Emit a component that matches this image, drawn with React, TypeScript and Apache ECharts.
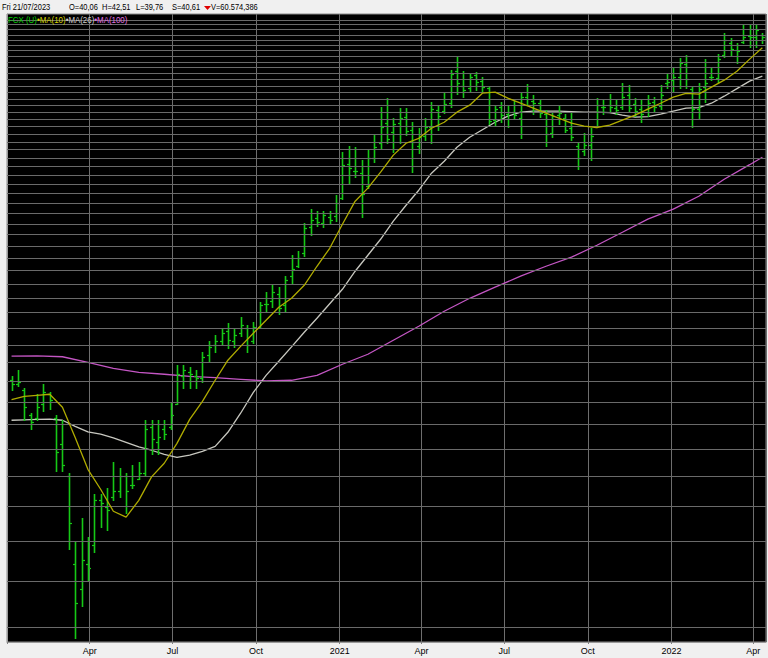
import React, { useEffect, useRef } from 'react';
import * as echarts from 'echarts';

// Weekly OHLC, FCX, weeks starting Mon 6 Jan 2020
const opens = [13.1, 12.9, 12.6, 11.4, 11.3, 11.9, 12.4, 11.3, 10.2, 9.0, 6.4, 5.8, 6.4, 6.9, 8.2, 8.0, 8.3, 8.5, 9.0, 8.7, 8.9, 9.1, 10.9, 10.3, 10.8, 10.9, 11.9, 13.3, 13.5, 13.3, 13.2, 14.4, 15.0, 15.2, 15.8, 15.2, 15.7, 16.0, 15.2, 16.1, 17.6, 17.8, 18.3, 17.5, 19.6, 20.4, 21.4, 23.7, 24.5, 24.1, 24.6, 24.7, 26.5, 30.3, 29.5, 29.2, 27.8, 31.0, 32.8, 35.5, 34.3, 35.5, 36.4, 34.5, 32.5, 33.8, 34.9, 37.3, 37.2, 38.3, 43.4, 41.0, 40.6, 42.7, 41.8, 40.6, 35.9, 37.8, 36.8, 37.0, 36.2, 39.3, 38.6, 38.3, 36.8, 34.2, 36.6, 36.2, 34.8, 32.4, 31.8, 32.6, 35.0, 37.8, 38.0, 37.6, 37.8, 39.6, 38.2, 37.5, 37.5, 38.5, 37.9, 41.4, 42.0, 42.5, 44.6, 40.5, 37.5, 40.8, 42.5, 42.3, 46.2, 48.5, 47.2, 48.6, 49.8, 49.5, 50.0];
const highs = [13.3, 13.6, 12.7, 11.5, 12.4, 12.9, 12.5, 11.4, 11.2, 9.1, 7.0, 7.65, 7.1, 8.4, 8.4, 8.6, 9.5, 9.3, 9.1, 9.4, 9.5, 11.2, 11.2, 11.2, 11.2, 11.95, 13.85, 13.85, 13.75, 13.6, 14.6, 15.2, 15.6, 16.0, 16.3, 16.0, 16.7, 16.2, 16.4, 17.7, 18.4, 19.0, 18.8, 19.6, 21.3, 21.6, 24.05, 25.4, 25.2, 25.2, 25.2, 26.8, 31.7, 32.4, 32.3, 30.7, 31.9, 33.85, 37.7, 39.1, 36.2, 37.6, 37.6, 35.6, 34.8, 36.2, 38.5, 38.0, 39.9, 43.6, 45.9, 43.5, 43.0, 43.3, 42.5, 41.0, 38.0, 38.5, 38.0, 38.6, 40.0, 41.3, 39.5, 39.0, 37.3, 37.0, 38.0, 36.7, 37.0, 32.8, 34.1, 34.8, 39.1, 38.9, 39.7, 38.8, 41.5, 41.1, 39.1, 38.8, 39.6, 39.3, 41.1, 43.1, 44.1, 45.7, 46.2, 40.8, 41.5, 45.5, 44.1, 46.4, 50.3, 49.4, 48.4, 51.9, 51.9, 51.9, 50.3];
const lows = [12.6, 12.8, 11.2, 10.8, 11.2, 11.6, 11.7, 9.2, 9.2, 6.8, 4.8, 5.45, 6.0, 6.7, 7.4, 7.3, 8.2, 8.3, 7.8, 8.6, 8.9, 9.0, 9.8, 9.8, 10.4, 10.8, 11.9, 12.7, 12.7, 12.7, 13.0, 14.1, 14.6, 15.0, 14.8, 14.9, 15.5, 14.6, 15.1, 16.0, 17.1, 17.4, 16.9, 17.1, 19.0, 20.3, 21.2, 22.95, 23.8, 23.7, 24.0, 24.3, 26.4, 28.0, 28.8, 24.6, 27.6, 30.5, 32.2, 32.9, 31.7, 32.8, 33.85, 29.3, 31.6, 33.2, 32.9, 34.5, 36.9, 37.8, 39.8, 39.2, 40.2, 40.4, 40.0, 35.4, 35.1, 35.6, 35.0, 36.0, 33.5, 38.0, 36.8, 36.4, 32.5, 33.6, 35.4, 34.3, 33.2, 29.7, 31.4, 30.7, 35.0, 36.7, 37.0, 36.7, 37.5, 37.0, 36.5, 35.6, 36.5, 37.0, 37.5, 40.7, 40.0, 40.7, 40.7, 35.0, 36.0, 38.5, 41.95, 41.6, 45.9, 46.2, 44.8, 48.4, 47.7, 47.7, 48.4];
const closes = [12.9, 13.0, 11.8, 11.1, 11.8, 12.5, 12.1, 9.9, 9.4, 7.5, 5.5, 6.5, 6.3, 8.2, 8.1, 7.9, 8.5, 9.0, 8.5, 8.7, 9.1, 10.8, 10.4, 10.5, 10.6, 11.4, 13.4, 13.6, 13.4, 13.2, 14.3, 14.9, 15.2, 15.7, 15.3, 15.6, 16.2, 15.0, 16.1, 17.5, 17.6, 18.4, 17.3, 19.3, 20.1, 21.0, 23.6, 24.4, 24.2, 24.8, 24.4, 26.0, 30.2, 29.8, 29.5, 26.9, 31.0, 32.3, 35.0, 33.4, 35.4, 36.2, 34.4, 33.0, 33.6, 34.9, 37.5, 36.5, 38.2, 43.0, 41.5, 40.3, 42.4, 41.6, 40.9, 35.8, 37.5, 36.6, 37.1, 36.6, 39.2, 38.1, 38.4, 36.9, 34.0, 36.5, 36.9, 34.6, 33.6, 31.0, 32.6, 33.7, 38.0, 37.7, 37.8, 37.3, 39.3, 37.6, 37.2, 36.8, 38.3, 37.8, 39.6, 41.7, 42.5, 44.8, 42.1, 37.5, 40.5, 41.5, 42.5, 45.5, 49.0, 47.4, 47.0, 49.6, 49.6, 51.0, 49.5];

// Moving averages (bar numbers are 1-based)
const ma10Bars = Array.from({ length: 60 }, (_, k) => 1 + 2 * k);
const ma10 = [12.12, 12.28, 12.33, 12.38, 11.77, 10.47, 9.25, 8.56, 7.86, 7.68, 8.20, 8.98, 9.47, 10.23, 11.23, 12.04, 13.07, 14.13, 14.91, 15.69, 16.50, 17.35, 17.97, 18.90, 20.35, 21.82, 23.96, 26.20, 27.56, 29.32, 31.33, 32.81, 33.45, 34.78, 35.60, 37.02, 38.04, 39.85, 40.01, 39.09, 38.33, 37.60, 36.88, 36.16, 35.47, 35.06, 34.88, 35.19, 35.89, 36.59, 37.45, 38.33, 39.24, 39.81, 39.70, 40.80, 41.92, 43.41, 45.49, 47.56];
const ma26Bars = Array.from({ length: 60 }, (_, k) => 1 + 2 * k);
const ma26 = [11.19, 11.21, 11.23, 11.24, 11.19, 10.93, 10.70, 10.60, 10.45, 10.27, 10.09, 9.96, 9.80, 9.69, 9.77, 9.92, 10.11, 10.68, 11.50, 12.47, 13.32, 14.07, 14.88, 15.75, 16.63, 17.59, 18.61, 19.96, 21.24, 22.60, 24.24, 25.79, 27.34, 29.21, 30.60, 32.31, 33.59, 34.58, 35.60, 36.45, 37.02, 37.16, 37.16, 37.16, 37.09, 37.02, 37.02, 36.95, 36.59, 36.31, 36.38, 36.73, 37.16, 37.60, 37.68, 38.33, 39.39, 40.56, 41.76, 42.58];
const ma100Bars = [...Array.from({ length: 30 }, (_, k) => 1 + 4 * k), 119];
const ma100 = [14.36, 14.37, 14.32, 14.01, 13.69, 13.48, 13.38, 13.27, 13.20, 13.12, 13.04, 13.07, 13.32, 13.91, 14.46, 15.27, 16.12, 17.09, 17.97, 18.76, 19.58, 20.35, 21.08, 22.08, 23.22, 24.43, 25.40, 26.71, 28.53, 30.19, 31.08];

// Horizontal price grid levels
const gridPrices = Array.from({ length: 49 }, (_, k) => 5 + k);
const quarterLabels: Record<number, string> = { 3: 'Apr', 6: 'Jul', 9: 'Oct' };

const headerTexts = [
  { text: 'Fri 21/07/2023', x: 2 },
  { text: 'O=40,06', x: 69 },
  { text: 'H=42,51', x: 102 },
  { text: 'L=39,76', x: 136 },
  { text: 'S=40,61', x: 172 },
  { text: 'V=60.574,386', x: 211 },
];

const weekTime = (i: number) => new Date(2020, 0, 6 + 7 * i).getTime();
const FONT = '"Liberation Sans", Arial, sans-serif';

export default function App() {
  const ref = useRef<HTMLDivElement>(null);
  useEffect(() => {
    const chart = echarts.init(ref.current!, null, { renderer: 'svg' });
    const xMin = new Date(2020, 0, 1).getTime();
    const xMax = new Date(2022, 3, 15).getTime();
    const ohlc = opens.map((o, i) => [weekTime(i), o, highs[i], lows[i], closes[i]]);
    const maData = (bars: number[], vals: number[]) => bars.map((b, k) => [weekTime(b - 1), vals[k]]);

    const option: any = {
      animation: false,
      backgroundColor: '#f0f0f0',
      grid: { left: 7, right: 2, top: 14, bottom: 16, show: true, backgroundColor: '#000', borderColor: '#8a8a8a', borderWidth: 1 },
      xAxis: {
        type: 'time', min: xMin, max: xMax,
        minInterval: 90 * 864e5, maxInterval: 92 * 864e5,
        axisLine: { show: true, lineStyle: { color: '#9a9a9a' } },
        axisTick: { show: true, length: 2, lineStyle: { color: '#808080' } },
        axisLabel: {
          show: true, color: '#000', fontSize: 9, fontFamily: FONT, margin: 4, hideOverlap: false,
          formatter: (val: number) => {
            const d = new Date(val);
            if (val <= xMin + 864e5 || d.getDate() !== 1) return '';
            const m = d.getMonth();
            if (m === 0) return String(d.getFullYear());
            return quarterLabels[m] || '';
          },
        },
        splitLine: { show: true, lineStyle: { color: '#6e6e6e', width: 1 } },
      },
      yAxis: {
        type: 'log', logBase: 10, min: 4.73, max: 54.2,
        axisLine: { show: true, lineStyle: { color: '#9a9a9a' } },
        axisTick: { show: false }, axisLabel: { show: false }, splitLine: { show: false },
      },
      series: [
        {
          type: 'line', data: [], z: 1, silent: true,
          markLine: {
            silent: true, symbol: ['none', 'none'], label: { show: false }, animation: false,
            lineStyle: { color: '#6a6a6a', type: 'solid', width: 1 },
            emphasis: { disabled: true },
            data: gridPrices.map((v) => ({ yAxis: v })),
          },
        },
        {
          type: 'line', data: maData(ma100Bars, ma100), showSymbol: false, silent: true, z: 3,
          lineStyle: { color: '#c456c4', width: 1.3 },
        },
        {
          type: 'line', data: maData(ma26Bars, ma26), showSymbol: false, silent: true, z: 3,
          lineStyle: { color: '#c8c8c0', width: 1.3 },
        },
        {
          type: 'custom', data: ohlc, z: 4, silent: true,
          encode: { x: 0, y: [1, 2, 3, 4] },
          renderItem: (params: any, api: any) => {
            const t = api.value(0);
            const pO = api.coord([t, api.value(1)]);
            const pH = api.coord([t, api.value(2)]);
            const pL = api.coord([t, api.value(3)]);
            const pC = api.coord([t, api.value(4)]);
            const x = Math.round(pH[0]) + 0.5;
            const bar = { stroke: '#16c816', lineWidth: 1.6, fill: null };
            const tick = { stroke: '#16c816', lineWidth: 1.2, fill: null };
            const yo = Math.round(pO[1]) + 0.5;
            const yc = Math.round(pC[1]) + 0.5;
            return {
              type: 'group',
              children: [
                { type: 'line', shape: { x1: x, y1: Math.round(pH[1]), x2: x, y2: Math.round(pL[1]) + 1 }, style: bar },
                { type: 'line', shape: { x1: x - 2.5, y1: yo, x2: x, y2: yo }, style: tick },
                { type: 'line', shape: { x1: x, y1: yc, x2: x + 2.5, y2: yc }, style: tick },
              ],
            };
          },
        },
        {
          type: 'line', data: maData(ma10Bars, ma10), showSymbol: false, silent: true, z: 5,
          lineStyle: { color: '#b0ac00', width: 1.3 },
        },
      ],
      graphic: [
        ...headerTexts.map((h) => ({
          type: 'text', x: h.x, y: 7, scaleX: 0.88, silent: true,
          style: { text: h.text, fill: '#000', font: `8.5px ${FONT}`, verticalAlign: 'middle' },
        })),
        { type: 'polygon', silent: true, shape: { points: [[204, 6], [211, 6], [207.5, 10]] }, style: { fill: '#e00000' } },
        {
          type: 'text', x: 8, y: 20, scaleX: 0.93, silent: true, z: 100,
          style: {
            text: '{a|FCX (U)}{b|•MA(10)}{c|•MA(26)}{d|•MA(100)}',
            font: `8.5px ${FONT}`, verticalAlign: 'middle',
            rich: {
              a: { fill: '#00d000', font: `8.5px ${FONT}` },
              b: { fill: '#d8d400', font: `8.5px ${FONT}` },
              c: { fill: '#cfcfcf', font: `8.5px ${FONT}` },
              d: { fill: '#e070e0', font: `8.5px ${FONT}` },
            },
          },
        },
      ],
    };
    chart.setOption(option);
    return () => chart.dispose();
  }, []);
  return <div ref={ref} style={{ position: 'fixed', left: 0, top: 0, width: 768, height: 658 }} />;
}
